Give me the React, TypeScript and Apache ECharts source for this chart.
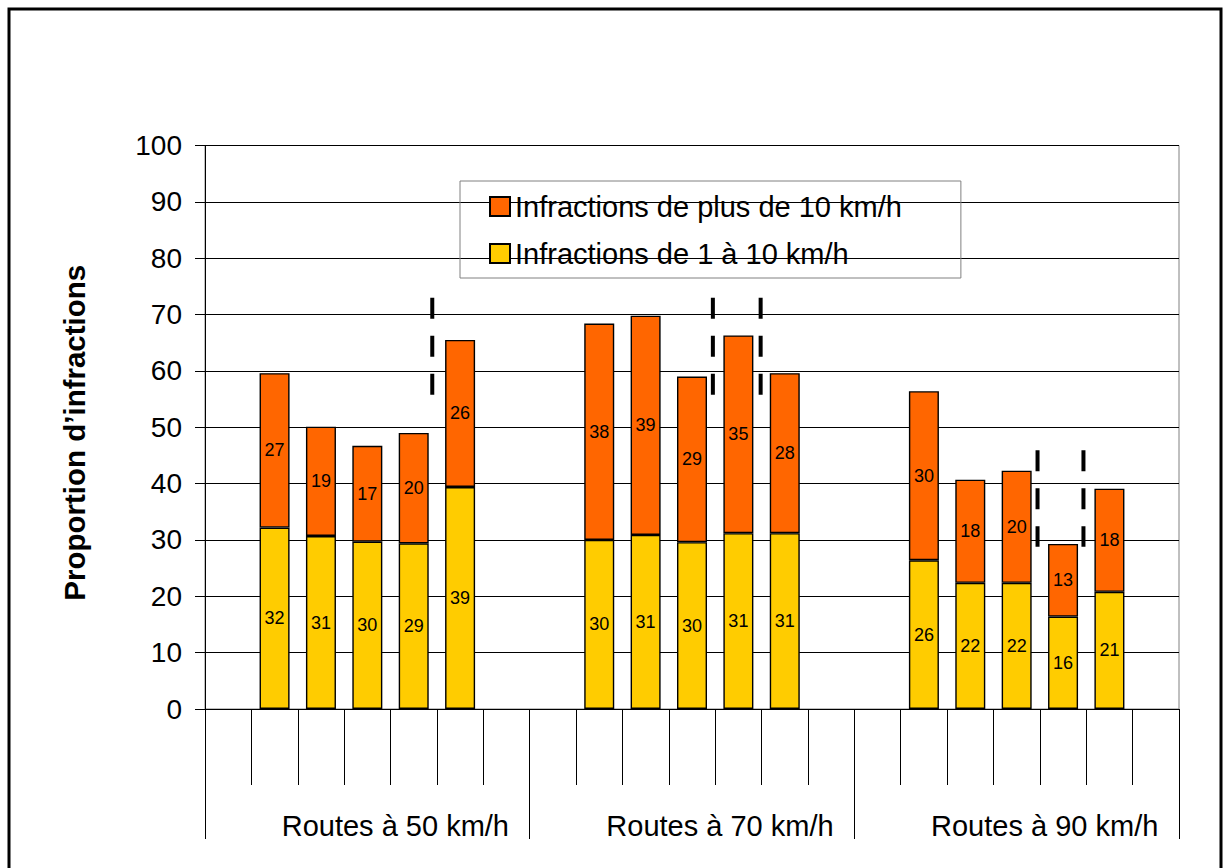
import React, { useEffect, useRef } from "react";
import * as echarts from "echarts";

// Speed zones (outer category level)
const groups = ["Routes à 50 km/h", "Routes à 70 km/h", "Routes à 90 km/h"];

// Share of speeding offences, five measuring points per speed zone
const lowSpeeding = [
  [32.2, 30.7, 29.7, 29.4, 39.4],
  [30.0, 30.9, 29.6, 31.2, 31.2],
  [26.4, 22.4, 22.4, 16.4, 20.8],
];
const highSpeeding = [
  [27.4, 19.4, 17.0, 19.6, 26.1],
  [38.4, 38.9, 29.4, 35.1, 28.4],
  [30.0, 18.3, 19.9, 12.9, 18.3],
];

const seriesNames = ["Infractions de 1 à 10 km/h", "Infractions de plus de 10 km/h"];

// Value axis
const yMin = 0;
const yMax = 100;
const yStep = 10;

// Dashed highlight markers: position in category slots and vertical extent
const dashSlot = [4.9, 10.95, 11.98, 17.95, 18.94];
const dashTop = [73.0, 73.0, 73.0, 45.9, 45.9];
const dashBottom = [55.7, 55.7, 55.7, 28.8, 28.8];

const FONT = "'Liberation Sans', Arial, Helvetica, sans-serif";

// Each zone gets an empty slot before and after its five bars
function toSlots(values: number[][]): (number | null)[] {
  const out: (number | null)[] = [];
  values.forEach((g) => {
    out.push(null);
    g.forEach((v) => out.push(v));
    out.push(null);
  });
  return out;
}

export default function App() {
  const ref = useRef<HTMLDivElement>(null);

  useEffect(() => {
    if (!ref.current) return;
    const chart = echarts.init(ref.current, null, { renderer: "svg" });

    const lowSlots = toSlots(lowSpeeding);
    const highSlots = toSlots(highSpeeding);
    const slotNames = lowSlots.map((_, i) => "slot" + i);
    const dashData = dashSlot.map((x, i) => [x, dashTop[i], dashBottom[i]]);

    const barLabel = {
      show: true,
      position: "inside",
      color: "#000",
      fontSize: 18,
      fontFamily: FONT,
      formatter: (p: any) => (p.value == null ? "" : String(Math.round(p.value))),
    };

    chart.setOption({
      animation: false,
      backgroundColor: "#fff",
      textStyle: { fontFamily: FONT },
      grid: {
        left: 205,
        right: 46,
        top: 145.5,
        bottom: 159,
        show: true,
        borderColor: "#808080",
        borderWidth: 1,
        backgroundColor: "#fff",
      },
      legend: {
        orient: "vertical",
        left: 460,
        top: 181,
        padding: [11, 59, 10, 29],
        borderColor: "#808080",
        borderWidth: 1,
        icon: "rect",
        itemWidth: 20,
        itemHeight: 19,
        itemGap: 18,
        textStyle: { fontSize: 29, color: "#000", fontFamily: FONT },
        data: [seriesNames[1], seriesNames[0]],
      },
      xAxis: [
        {
          type: "category",
          data: slotNames,
          boundaryGap: true,
          axisLine: { show: true, lineStyle: { color: "#000", width: 1 } },
          axisTick: { show: true, interval: 0, length: 76, lineStyle: { color: "#000" } },
          axisLabel: { show: false },
          splitLine: { show: false },
        },
        {
          type: "category",
          data: groups,
          position: "bottom",
          boundaryGap: true,
          axisLine: { show: false },
          axisTick: { show: true, interval: 0, length: 130, lineStyle: { color: "#000" } },
          axisLabel: {
            show: true,
            interval: 0,
            margin: 102,
            fontSize: 29,
            color: "#000",
            fontFamily: FONT,
            padding: [0, 0, 0, 56],
          },
          splitLine: { show: false },
        },
        {
          type: "value",
          min: 0,
          max: slotNames.length,
          show: false,
        },
      ],
      yAxis: {
        type: "value",
        min: yMin,
        max: yMax,
        interval: yStep,
        name: "Proportion d’infractions",
        nameLocation: "middle",
        nameRotate: 90,
        nameGap: 116,
        nameTextStyle: {
          fontSize: 29.5,
          fontWeight: "bold",
          color: "#000",
          fontFamily: FONT,
          padding: [0, 11, 0, 0],
        },
        axisLine: { show: true, lineStyle: { color: "#000", width: 1 } },
        axisTick: { show: true, inside: false, length: 10, lineStyle: { color: "#000" } },
        axisLabel: { fontSize: 28, color: "#000", margin: 23, fontFamily: FONT },
        splitLine: { show: true, lineStyle: { color: "#000", width: 1 } },
      },
      series: [
        {
          name: seriesNames[0],
          type: "bar",
          stack: "total",
          data: lowSlots,
          barWidth: 30,
          itemStyle: { color: "#FFCC00", borderColor: "#000", borderWidth: 1.4 },
          label: barLabel,
        },
        {
          name: seriesNames[1],
          type: "bar",
          stack: "total",
          data: highSlots,
          barWidth: 30,
          itemStyle: { color: "#FF6600", borderColor: "#000", borderWidth: 1.4 },
          label: barLabel,
        },
        {
          type: "custom",
          xAxisIndex: 2,
          yAxisIndex: 0,
          silent: true,
          data: dashData,
          renderItem: (params: any, api: any) => {
            const p1 = api.coord([api.value(0), api.value(1)]);
            const p2 = api.coord([api.value(0), api.value(2)]);
            return {
              type: "line",
              shape: { x1: p1[0], y1: p1[1], x2: p2[0], y2: p2[1] },
              style: { stroke: "#000", lineWidth: 4, lineDash: [21, 17] },
            };
          },
          z: 5,
        },
      ],
      graphic: [
        {
          type: "rect",
          silent: true,
          shape: { x: 9, y: 9, width: 1212, height: 900 },
          style: { fill: "none", stroke: "#000", lineWidth: 3 },
        },
      ],
    });

    return () => chart.dispose();
  }, []);

  return (
    <div
      ref={ref}
      style={{ position: "absolute", left: 0, top: 0, width: 1225, height: 868, background: "#fff" }}
    />
  );
}
